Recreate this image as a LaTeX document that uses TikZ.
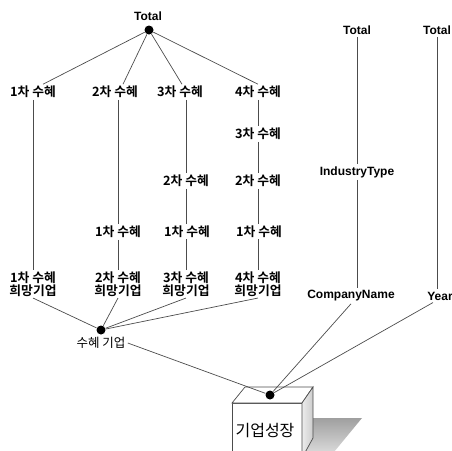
\documentclass[tikz,border=0pt]{standalone}
\usepackage{fontspec}
\setmainfont{Liberation Sans}
\newfontfamily\kr{Noto Sans CJK KR}[BoldFont={Noto Sans CJK KR Bold}]
\usepackage{tikz}
\usetikzlibrary{calc}

\begin{document}
\begin{tikzpicture}[x=1pt, y=-1pt, line width=0.7pt,
  ln/.style={draw=black!70},
  lab/.style={font=\kr\bfseries\fontsize{12.8}{12.5}\selectfont, inner sep=1.5pt, align=center},
  eng/.style={font=\bfseries\fontsize{12}{14}\selectfont, inner sep=2pt},
  kor/.style={font=\kr\fontsize{12.5}{14}\selectfont, inner sep=2pt},
  dot/.style={circle, fill=black, inner sep=0pt, minimum size=9pt}]
  \useasboundingbox (0,0) rectangle (452,450);

  % box with shadow
  \shade[top color=gray!75, bottom color=gray!30] (313,418) -- (362,418) -- (334,452) -- (302,452) -- cycle;
  \draw[ln, fill=white] (232,403) rectangle (302,458);
  \draw[ln, fill=white] (232,403) -- (245,387) -- (313,387) -- (302,403) -- cycle;
  \shade[left color=gray!15, right color=gray!40, draw=black!70] (302,403) -- (313,387) -- (313,438) -- (302,458) -- cycle;
  \node[kor, font=\kr\fontsize{16}{18}\selectfont] (growth) at (265,430) {기업성장};
  \node[dot] (bx) at (270,395) {};

  % left tree
  \node[eng] (tot) at (148,16) {Total};
  \node[dot] (top) at (149,30) {};
  \node[lab] (a1) at (33,92) {1차 수혜};
  \node[lab] (a2) at (115,92) {2차 수혜};
  \node[lab] (a3) at (180,92) {3차 수혜};
  \node[lab] (a4) at (258,92) {4차 수혜};
  \node[lab] (d4) at (258,134) {3차 수혜};
  \node[lab] (c3) at (186,181) {2차 수혜};
  \node[lab] (c4) at (258,181) {2차 수혜};
  \node[lab] (b2) at (118,232) {1차 수혜};
  \node[lab] (b3) at (187,232) {1차 수혜};
  \node[lab] (b4) at (259,232) {1차 수혜};
  \node[lab] (h1) at (33,284) {1차 수혜\\희망기업};
  \node[lab] (h2) at (118,284) {2차 수혜\\희망기업};
  \node[lab] (h3) at (186,284) {3차 수혜\\희망기업};
  \node[lab] (h4) at (258,284) {4차 수혜\\희망기업};
  \node[dot] (bdot) at (101,330) {};
  \node[kor] (sk) at (101,343) {수혜 기업};

  \draw[ln] (top) -- ([xshift=10pt]a1.north);
  \draw[ln] (top) -- ([xshift=8pt]a2.north);
  \draw[ln] (top) -- ([xshift=2pt]a3.north);
  \draw[ln] (top) -- (a4.north);

  \draw[ln] (a1) -- (h1);
  \draw[ln] (b2.north |- a2.south) -- (b2.north) (b2) -- (h2);
  \draw[ln] (c3.north |- a3.south) -- (c3.north) (c3) -- (c3 |- b3.north) (b3.south) -- (b3.south -| h3) -- (h3.north);
  \draw[ln] (a4) -- (d4) (d4) -- (c4) (c4) -- (c4 |- b4.north) (b4.south) -- (b4.south -| h4) -- (h4.north);

  \foreach \h in {h1,h2,h3,h4}
    \draw[ln] (\h.south) -- (bdot);
  \draw[ln] (sk.east) -- (bx);

  % right dimensions
  \node[eng] (t1) at (357,30) {Total};
  \node[eng] (t2) at (437,30) {Total};
  \node[eng] (it) at (357,172) {IndustryType};
  \node[eng] (cn) at (351,296) {CompanyName};
  \node[eng] (yr) at (440,296) {Year};

  \draw[ln] (t1) -- (it);
  \draw[ln] (it.south) -- (it.south |- cn.north);
  \draw[ln] (t2.south) -- (t2.south |- yr.north);
  \draw[ln] (cn.south) -- (bx);
  \draw[ln] ([xshift=-7pt]yr.south) -- (bx);
\end{tikzpicture}
\end{document}
